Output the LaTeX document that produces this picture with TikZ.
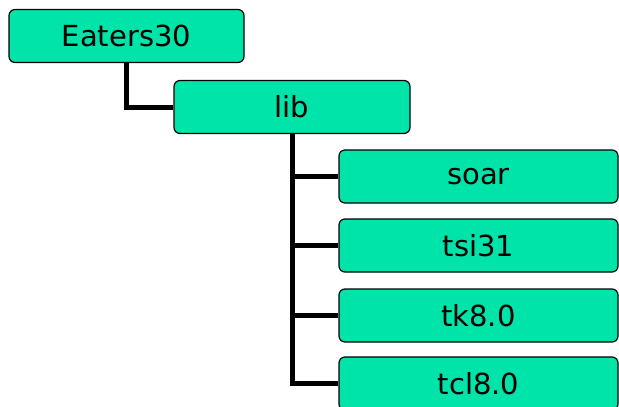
\documentclass[tikz,border=0pt]{standalone}
\usepackage{fontspec}
\setmainfont{DejaVu Sans}
\usepackage{xcolor}
\definecolor{folder}{HTML}{00E3A9}
\usetikzlibrary{positioning}

\begin{document}
\begin{tikzpicture}[x=1pt, y=-1pt,
		dirbox/.style={draw=black, fill=folder, line width=1.2pt, rounded corners=6pt,
			minimum height=53pt, inner sep=0pt, font=\fontsize{29}{29}\selectfont},
		branch/.style={line width=5pt}]
		%page size
		\useasboundingbox (0,0) rectangle (619,407);

		%top folders
		\node[dirbox, minimum width=235pt] (eaters) at (126.5,36) {Eaters30};
		\node[dirbox, minimum width=236pt] (lib) at (292,107) {lib};
		\draw[branch] (eaters.south) |- (lib.west);

		%sub folders of lib
		\foreach \name/\label/\y in {soar/soar/176.5, tsi/tsi31/245.5, tk/tk8.0/315.5, tcl/tcl8.0/383.5}
		{
			\node[dirbox, minimum width=279pt] (\name) at (478.5,\y) {\label};
			\draw[branch] (lib.south) |- (\name.west);
		}
	\end{tikzpicture}
\end{document}
